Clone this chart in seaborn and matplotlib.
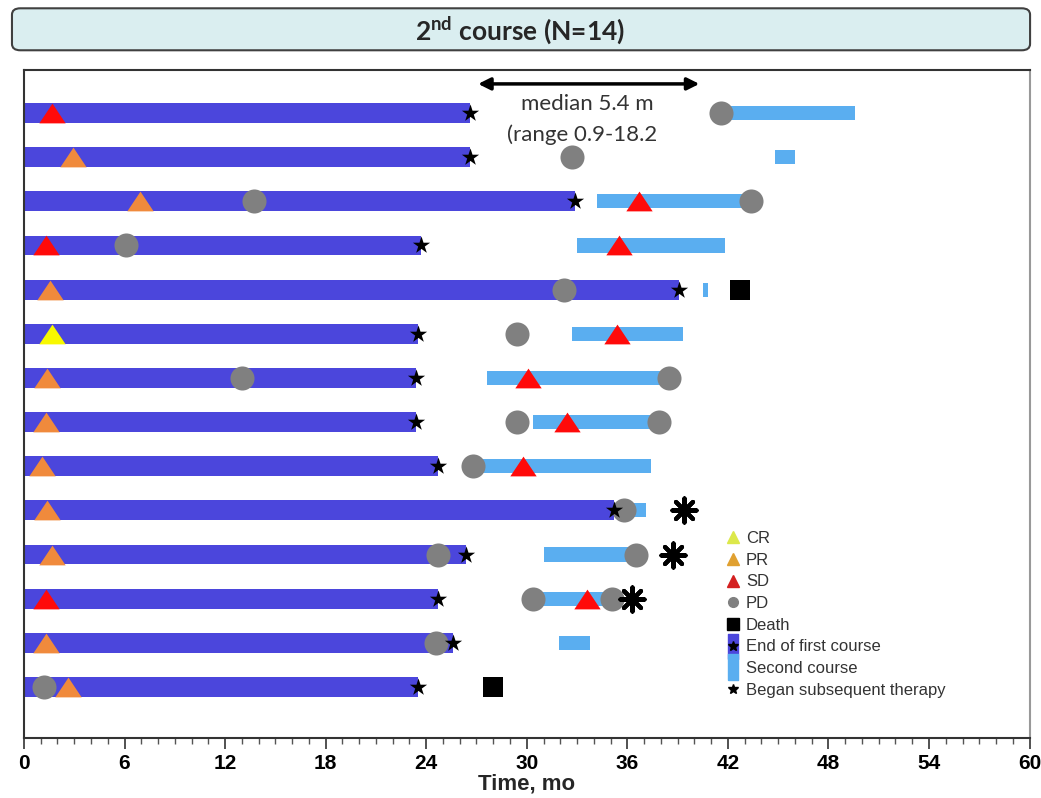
import numpy as np
import pandas as pd
import matplotlib
matplotlib.use("Agg")
import matplotlib.pyplot as plt
from matplotlib.lines import Line2D
from matplotlib.patches import FancyBboxPatch
import seaborn as sns

# patients (top to bottom) and end of first course, months
patients = list(range(1, 15))
first_end = [26.6, 26.6, 32.9, 23.7, 39.1, 23.5, 23.4, 23.4, 24.7, 35.2, 26.4, 24.7, 25.6, 23.5]
# second course start / stop (nan = none)
second_start = [41.6, 44.8, 34.2, 33.0, 40.5, 32.7, 27.6, 30.4, 26.8, 35.3, 31.0, 30.4, 31.9, np.nan]
second_end = [49.6, 46.0, 43.0, 41.8, 40.8, 39.3, 38.5, 37.9, 37.4, 37.1, 36.5, 35.0, 33.8, np.nan]

# response events: patient number, time
cr_pt = [6]
cr_t = [1.7]
pr_pt = [2, 3, 5, 7, 8, 9, 10, 11, 13, 14]
pr_t = [2.9, 6.9, 1.55, 1.4, 1.3, 1.1, 1.4, 1.7, 1.3, 2.6]
sd_pt = [1, 3, 4, 4, 6, 7, 8, 9, 12, 12]
sd_t = [1.7, 36.7, 1.3, 35.5, 35.4, 30.1, 32.4, 29.8, 1.3, 33.6]
pd_pt = [1, 2, 3, 3, 4, 5, 6, 7, 7, 8, 8, 9, 10, 11, 11, 12, 12, 13, 14]
pd_t = [41.6, 32.7, 13.7, 43.4, 6.1, 32.2, 29.4, 13.0, 38.5, 29.4, 37.9, 26.8, 35.8, 24.7, 36.5, 30.4, 35.1, 24.6, 1.2]
death_pt = [5, 14]
death_t = [42.7, 28.0]
subseq_pt = [10, 11, 12]
subseq_t = [39.4, 38.7, 36.3]

DARK = "#4b46dc"
LIGHT = "#5aaef0"
RED = "#ff0a0a"
ORANGE = "#f08a3c"
YELLOW = "#f8f800"
GREY = "#808080"

sns.set_style("white")
plt.rcParams["font.family"] = ["Liberation Sans", "DejaVu Sans"]

fig = plt.figure(figsize=(10.41, 7.98), dpi=100)
ax = fig.add_axes([0.023, 0.075, 0.966, 0.837])

df = pd.DataFrame({"patient": patients, "end": first_end})
sns.barplot(data=df, x="end", y="patient", orient="h", order=patients,
            color=DARK, saturation=1, width=0.45, linewidth=0, ax=ax)

idx = np.arange(len(patients))
s_start = np.array(second_start)
s_end = np.array(second_end)
ax.barh(idx, s_end - s_start, left=s_start, height=0.32, color=LIGHT, linewidth=0, zorder=2)

def pos(pts):
    return [p - 1 for p in pts]

tri = [(-1, -0.75), (1, -0.75), (0, 0.75), (-1, -0.75)]
sns.scatterplot(x=pd_t, y=pos(pd_pt), marker="o", s=300, color=GREY, linewidth=0, zorder=3, ax=ax)
sns.scatterplot(x=pr_t, y=pos(pr_pt), marker=tri, s=360, color=ORANGE, linewidth=0, zorder=4, ax=ax)
sns.scatterplot(x=cr_t, y=pos(cr_pt), marker=tri, s=360, color=YELLOW, linewidth=0, zorder=4, ax=ax)
sns.scatterplot(x=sd_t, y=pos(sd_pt), marker=tri, s=360, color=RED, linewidth=0, zorder=4, ax=ax)
sns.scatterplot(x=death_t, y=pos(death_pt), marker="s", s=190, color="black", linewidth=0, zorder=4, ax=ax)
sns.scatterplot(x=first_end, y=idx, marker="*", s=170, color="black", linewidth=0, zorder=5, ax=ax)
ax.scatter(subseq_t, pos(subseq_pt), marker=(8, 2, 0), s=300, color="black", linewidths=3, zorder=5)

# median arrow and text
ax.annotate("", xy=(40.3, -0.66), xytext=(27.1, -0.66),
            arrowprops=dict(arrowstyle="<|-|>", lw=2.5, color="black", mutation_scale=18,
                            shrinkA=0, shrinkB=0))
ax.text(33.6, -0.2, "median 5.4 m", ha="center", va="center", fontsize=16,
        family=["Lato", "DejaVu Sans"], color="#333333")
ax.text(33.3, 0.48, "(range 0.9-18.2", ha="center", va="center", fontsize=16,
        family=["Lato", "DejaVu Sans"], color="#333333")

ax.set_xlim(0, 60)
ax.set_ylim(13 + 1.16, -0.97)
ax.set_xticks(np.arange(0, 61, 6))
ax.set_xticks(np.arange(0, 61, 1), minor=True)
ax.set_yticks([])
ax.set_ylabel("")
ax.tick_params(axis="x", which="major", direction="out", length=8, width=1.2, colors="#333333",
               labelsize=15, labelcolor="black", bottom=True)
ax.tick_params(axis="x", which="minor", direction="out", length=4, width=1, colors="#555555", bottom=True)
for lab in ax.get_xticklabels():
    lab.set_fontweight("bold")
ax.set_xlabel("Time, mo", fontsize=16, fontweight="bold", labelpad=0)
for side in ["left", "top", "bottom"]:
    ax.spines[side].set_color("#333333")
    ax.spines[side].set_linewidth(1.5)
ax.spines["right"].set_color("#999999")
ax.spines["right"].set_linewidth(1.5)

# legend
rect = [(-0.4, -1), (0.4, -1), (0.4, 1), (-0.4, 1), (-0.4, -1)]
handles = [
    Line2D([], [], marker="^", ls="", color="#dce84a", ms=8),
    Line2D([], [], marker="^", ls="", color="#e0a030", ms=8),
    Line2D([], [], marker="^", ls="", color="#d42020", ms=8),
    Line2D([], [], marker="o", ls="", color=GREY, ms=7),
    Line2D([], [], marker="s", ls="", color="black", ms=8),
    (Line2D([], [], marker=rect, ls="", color=DARK, ms=18),
     Line2D([], [], marker="*", ls="", color="black", ms=7)),
    Line2D([], [], marker=rect, ls="", color=LIGHT, ms=19),
    Line2D([], [], marker="*", ls="", color="black", ms=7),
]
labels = ["CR", "PR", "SD", "PD", "Death", "End of first course", "Second course",
          "Began subsequent therapy"]
leg = ax.legend(handles, labels, loc="upper left", bbox_to_anchor=(0.698, 0.31), frameon=False,
                fontsize=12, labelspacing=0.4, handlelength=0.8, handletextpad=0.4,
                borderpad=0, borderaxespad=0)
for t in leg.get_texts():
    t.set_color("#333333")

# title box
fig.patches.append(FancyBboxPatch((0.0115, 0.937), 0.978, 0.0526, boxstyle="round,pad=0,rounding_size=0.008",
                                  transform=fig.transFigure, facecolor="#daeef0", edgecolor="#404040",
                                  linewidth=1.5))
fig.text(0.5, 0.963, r"2$^{\mathregular{nd}}$ course (N=14)", ha="center", va="center", fontsize=19,
         fontweight="bold", family=["Lato", "DejaVu Sans"])

fig.savefig("out.png", dpi=100)
